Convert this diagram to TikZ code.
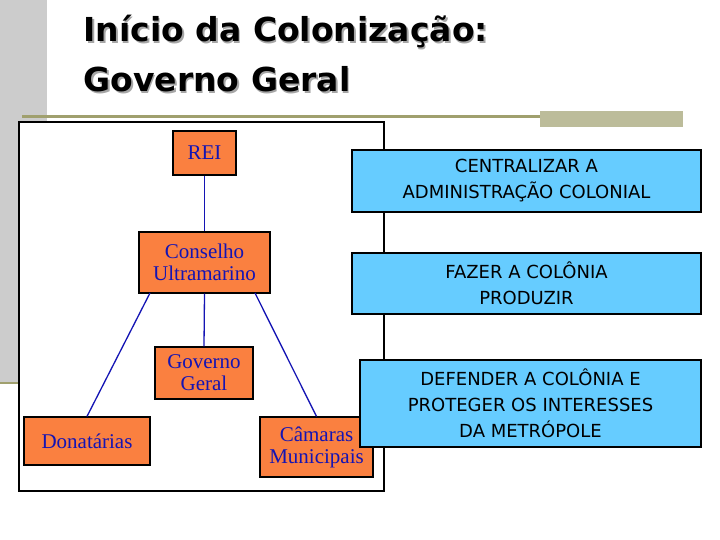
\documentclass[tikz,border=0pt]{standalone}
\usepackage{fontspec}
\setmainfont{Liberation Serif}
\newfontfamily\comicfont{DejaVu Sans}
\usetikzlibrary{positioning}
\definecolor{orgbox}{RGB}{250,128,64}
\definecolor{orgtext}{RGB}{20,20,180}
\definecolor{skybox}{RGB}{102,204,255}
\definecolor{olive}{RGB}{160,160,110}
\definecolor{bandgray}{RGB}{204,204,204}
\begin{document}
\begin{tikzpicture}[x=1pt, y=-1pt,
  orgnode/.style={draw=black, line width=1.2pt, fill=orgbox, text=orgtext, font=\fontsize{21}{22}\selectfont, align=center, inner sep=0pt},
  goalbox/.style={draw=black, line width=2.5pt, fill=skybox, font=\comicfont\fontsize{18}{26}\selectfont, align=center, inner sep=0pt},
  tie/.style={draw=orgtext, line width=1.3pt}
]
\useasboundingbox (0,0) rectangle (720,540);
% Background decoration
\fill[bandgray] (0,0) rectangle (47,383);
\draw[olive, line width=2.5pt] (0,383) -- (19,383);
\draw[olive, line width=3pt] (22,117) -- (683,117);
\fill[olive!70] (540,111) rectangle (683,127);
% Title
\node[anchor=north west, align=left, font=\comicfont\bfseries\fontsize{33}{50}\selectfont, text=gray!70] (titleshadow) at (81.5,13.5) {Início da Colonização:\\Governo Geral};
\node[anchor=north west, align=left, font=\comicfont\bfseries\fontsize{33}{50}\selectfont] (title) at (80,12) {Início da Colonização:\\Governo Geral};
% Frame
\draw[line width=2.5pt, fill=white] (19,122) rectangle (384,491);
% Hierarchy
\node[orgnode, minimum width=63pt, minimum height=44pt] (rei) at (204.5,153) {REI};
\node[orgnode, minimum width=131pt, minimum height=61pt] (conselho) at (204.5,262.5) {Conselho\\Ultramarino};
\node[orgnode, minimum width=98pt, minimum height=52pt] (governo) at (204,373) {Governo\\Geral};
\node[orgnode, minimum width=126pt, minimum height=48pt] (donat) at (87,441) {Donatárias};
\node[orgnode, minimum width=113pt, minimum height=60pt] (camaras) at (316.5,447) {Câmaras\\Municipais};
\coordinate (cl) at (150,293);
\coordinate (cr) at (255,293);
\draw[tie] (rei.south) -- (conselho.north);
\draw[tie] (conselho.south) -- (governo.north);
\draw[tie] (cl) -- (donat.north);
\draw[tie] (cr) -- (camaras.north);
% Goals
\node[goalbox, minimum width=349pt, minimum height=62pt] (goal1) at (526.5,181) {CENTRALIZAR A\\ADMINISTRAÇÃO COLONIAL};
\node[goalbox, minimum width=349pt, minimum height=61pt] (goal2) at (526.5,283.5) {FAZER A COLÔNIA\\PRODUZIR};
\node[goalbox, minimum width=341pt, minimum height=87pt] (goal3) at (530.5,403.5) {DEFENDER A COLÔNIA E\\PROTEGER OS INTERESSES\\DA METRÓPOLE};
\end{tikzpicture}
\end{document}
